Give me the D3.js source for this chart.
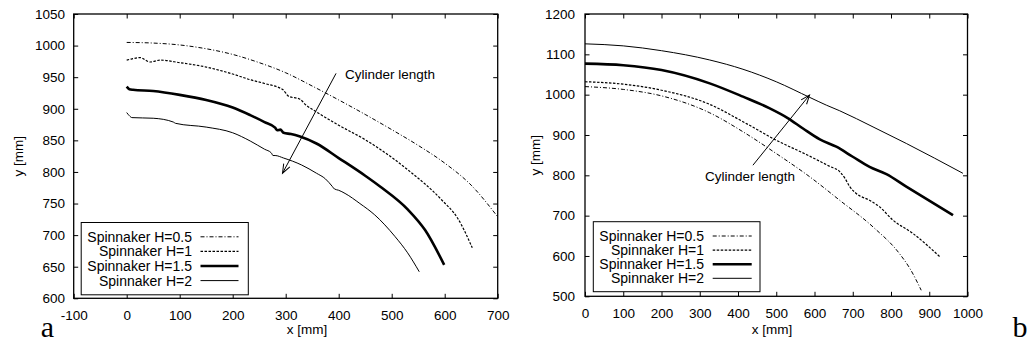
<!DOCTYPE html>
<html>
<head>
<meta charset="utf-8">
<script src="https://cdn.jsdelivr.net/npm/d3@7"></script>
<style>
  body { margin: 0; background: #fff; }
  svg { display: block; }
</style>
</head>
<body>
<div id="chart"></div>
<script>
const seriesLabels = ['Spinnaker H=0.5', 'Spinnaker H=1', 'Spinnaker H=1.5', 'Spinnaker H=2'];

// panel a
const aH05 = [[0,1005],[50,1004],[100,1001],[150,995],[200,986],[250,973],[300,957],[350,936],[400,914],[450,891],[500,867],[550,842],[600,814],[650,779],[700,729]];
const aH1 = [[0,977],[10,979],[25,981],[44,974],[63,977],[100,973],[150,966],[200,955],[233,946],[260,940],[295,930],[305,920],[327,915],[338,906],[358,895],[400,874],[450,851],[478,836],[531,803],[594,756],[625,726],[652,680]];
const aH15 = [[0,935],[5,931],[12,930],[50,928],[100,922],[150,914],[200,902],[233,890],[260,879],[280,870],[284,866],[290,867],[296,862],[310,860],[327,856],[358,845],[400,822],[450,794],[478,777],[531,740],[563,708],[599,653]];
const aH2 = [[0,894],[5,889],[10,886],[50,885],[88,879],[92,877],[150,871],[200,862],[233,849],[260,836],[273,830],[276,826],[280,826],[296,822],[330,811],[358,798],[375,789],[388,777],[392,773],[400,771],[412,766],[440,750],[468,732],[506,698],[530,672],[552,642]];
const aXTicks = [-100,0,100,200,300,400,500,600,700];
const aYTicks = [600,650,700,750,800,850,900,950,1000,1050];
const aArrow = [[395,956],[294,798]];

// panel b
const bH05 = [[0,1020],[100,1013],[200,997],[326,955],[413,908],[500,854],[588,796],[666,738],[753,672],[822,606],[850,568],[879,515]];
const bH1 = [[0,1032],[100,1026],[200,1011],[326,976],[413,933],[500,887],[580,851],[640,822],[666,809],[680,792],[692,772],[709,755],[744,738],[770,722],[805,689],[857,656],[929,597]];
const bH15 = [[0,1077],[100,1073],[200,1061],[326,1028],[413,995],[483,966],[530,942],[570,916],[614,889],[657,871],[700,846],[744,821],[788,803],[840,772],[962,701]];
const bH2 = [[0,1126],[100,1121],[200,1109],[326,1086],[413,1063],[500,1032],[588,993],[631,974],[666,960],[753,920],[840,879],[988,805]];
const bXTicks = [0,100,200,300,400,500,600,700,800,900,1000];
const bYTicks = [500,600,700,800,900,1000,1100,1200];
const bArrow = [[439,825],[587,999]];

const arrowText = 'Cylinder length';

const lineStyles = [
  { width: 1, dash: '4,2,1,2' },
  { width: 1.2, dash: '2.5,1.5' },
  { width: 2.6, dash: null },
  { width: 1, dash: null }
];

const sans = '"Liberation Sans", Arial, sans-serif';

const svg = d3.select('#chart').append('svg')
  .attr('width', 1031)
  .attr('height', 348)
  .style('font-family', sans);

svg.append('defs').append('marker')
  .attr('id', 'head')
  .attr('markerUnits', 'userSpaceOnUse')
  .attr('viewBox', '-10 -5 12 10')
  .attr('markerWidth', 12)
  .attr('markerHeight', 10)
  .attr('refX', 0)
  .attr('refY', 0)
  .attr('orient', 'auto')
  .append('path')
  .attr('d', 'M-9,-3.5L0,0L-9,3.5')
  .attr('fill', 'none')
  .attr('stroke', '#000')
  .attr('stroke-width', 1);

function drawPanel(cfg) {
  const x = d3.scaleLinear().domain(cfg.xDomain).range([cfg.left, cfg.right]);
  const y = d3.scaleLinear().domain(cfg.yDomain).range([cfg.bottom, cfg.top]);
  const g = svg.append('g');
  const fs = '13.5px';
  const fmt = d => String(d);

  // inward ticks on all four sides
  const tick = 4.5;
  g.append('g')
    .attr('transform', `translate(0,${cfg.bottom})`)
    .call(d3.axisBottom(x).tickValues(cfg.xTicks).tickFormat(fmt).tickSizeInner(-tick).tickSizeOuter(0).tickPadding(12))
    .call(a => a.select('.domain').remove())
    .call(a => a.selectAll('text').attr('font-size', fs).style('font-family', sans).attr('fill', '#000'));
  g.append('g')
    .attr('transform', `translate(0,${cfg.top})`)
    .call(d3.axisTop(x).tickValues(cfg.xTicks).tickSizeInner(-tick).tickSizeOuter(0).tickFormat(''))
    .call(a => a.select('.domain').remove());
  g.append('g')
    .attr('transform', `translate(${cfg.left},0)`)
    .call(d3.axisLeft(y).tickValues(cfg.yTicks).tickFormat(fmt).tickSizeInner(-tick).tickSizeOuter(0).tickPadding(cfg.left - cfg.yLabelRight))
    .call(a => a.select('.domain').remove())
    .call(a => a.selectAll('text').attr('font-size', fs).style('font-family', sans).attr('fill', '#000'));
  g.append('g')
    .attr('transform', `translate(${cfg.right},0)`)
    .call(d3.axisRight(y).tickValues(cfg.yTicks).tickSizeInner(-tick).tickSizeOuter(0).tickFormat(''))
    .call(a => a.select('.domain').remove());
  g.selectAll('.tick line').attr('stroke', '#000').attr('stroke-width', 1);

  g.append('rect')
    .attr('x', cfg.left).attr('y', cfg.top)
    .attr('width', cfg.right - cfg.left).attr('height', cfg.bottom - cfg.top)
    .attr('fill', 'none').attr('stroke', '#000').attr('stroke-width', 1.3);

  const line = d3.line()
    .x(d => x(d[0]))
    .y(d => y(d[1]))
    .curve(d3.curveMonotoneX);

  g.selectAll('.curve')
    .data(cfg.series)
    .enter()
    .append('path')
    .attr('class', 'curve')
    .attr('d', d => line(d))
    .attr('fill', 'none')
    .attr('stroke', '#000')
    .attr('stroke-linejoin', 'round')
    .attr('stroke-width', (d, i) => lineStyles[i].width)
    .attr('stroke-dasharray', (d, i) => lineStyles[i].dash);

  // legend
  const lg = g.append('g');
  lg.append('rect')
    .attr('x', cfg.legend.x0).attr('y', cfg.legend.y0)
    .attr('width', cfg.legend.x1 - cfg.legend.x0).attr('height', cfg.legend.y1 - cfg.legend.y0)
    .attr('fill', '#fff').attr('stroke', '#000').attr('stroke-width', 1);
  seriesLabels.forEach((lab, i) => {
    const cy = cfg.legend.row0 + i * cfg.legend.step;
    lg.append('text')
      .attr('x', cfg.legend.textRight).attr('y', cy)
      .attr('dy', '0.35em')
      .attr('text-anchor', 'end')
      .attr('font-size', '14px')
      .text(lab);
    lg.append('line')
      .attr('x1', cfg.legend.s0).attr('x2', cfg.legend.s1)
      .attr('y1', cy).attr('y2', cy)
      .attr('stroke', '#000')
      .attr('stroke-width', lineStyles[i].width)
      .attr('stroke-dasharray', lineStyles[i].dash);
  });

  // arrow + annotation
  g.append('line')
    .attr('x1', x(cfg.arrow[0][0])).attr('y1', y(cfg.arrow[0][1]))
    .attr('x2', x(cfg.arrow[1][0])).attr('y2', y(cfg.arrow[1][1]))
    .attr('stroke', '#000').attr('stroke-width', 1)
    .attr('marker-end', 'url(#head)');
  g.append('text')
    .attr('x', cfg.note.x).attr('y', cfg.note.y)
    .attr('dy', '0.35em')
    .attr('font-size', '13.5px')
    .text(arrowText);

  // axis titles
  g.append('text')
    .attr('x', cfg.xTitleX).attr('y', 329)
    .attr('dy', '0.35em')
    .attr('text-anchor', 'middle')
    .attr('font-size', '13.5px')
    .text('x [mm]');
  g.append('text')
    .attr('transform', `translate(${cfg.yTitleX},${(cfg.top + cfg.bottom) / 2}) rotate(-90)`)
    .attr('dy', '0.35em')
    .attr('text-anchor', 'middle')
    .attr('font-size', '13.5px')
    .text('y [mm]');

  g.append('text')
    .attr('x', cfg.tag.x).attr('y', 337)
    .attr('text-anchor', 'middle')
    .style('font-family', '"Liberation Serif", "DejaVu Serif", serif')
    .attr('font-size', '30px')
    .text(cfg.tag.t);
}

drawPanel({
  xDomain: [-100, 700], yDomain: [600, 1050],
  left: 73.7, right: 497.7, top: 14, bottom: 298.3,
  yLabelRight: 65,
  xTicks: aXTicks, yTicks: aYTicks,
  series: [aH05, aH1, aH15, aH2],
  legend: { x0: 81.2, y0: 222.5, x1: 248.3, y1: 294.8, row0: 236.8, step: 14.6, textRight: 192, s0: 200.5, s1: 238.5 },
  arrow: aArrow,
  note: { x: 345, y: 74 },
  xTitleX: 307, yTitleX: 18.5,
  tag: { x: 47.5, t: 'a' }
});

drawPanel({
  xDomain: [0, 1000], yDomain: [500, 1200],
  left: 585, right: 967.5, top: 14, bottom: 296.3,
  yLabelRight: 575,
  xTicks: bXTicks, yTicks: bYTicks,
  series: [bH05, bH1, bH15, bH2],
  legend: { x0: 593.3, y0: 221.7, x1: 760, y1: 291.7, row0: 236, step: 14.1, textRight: 704, s0: 712.7, s1: 751.7 },
  arrow: bArrow,
  note: { x: 705, y: 176 },
  xTitleX: 772, yTitleX: 535,
  tag: { x: 1020, t: 'b' }
});
</script>
</body>
</html>
